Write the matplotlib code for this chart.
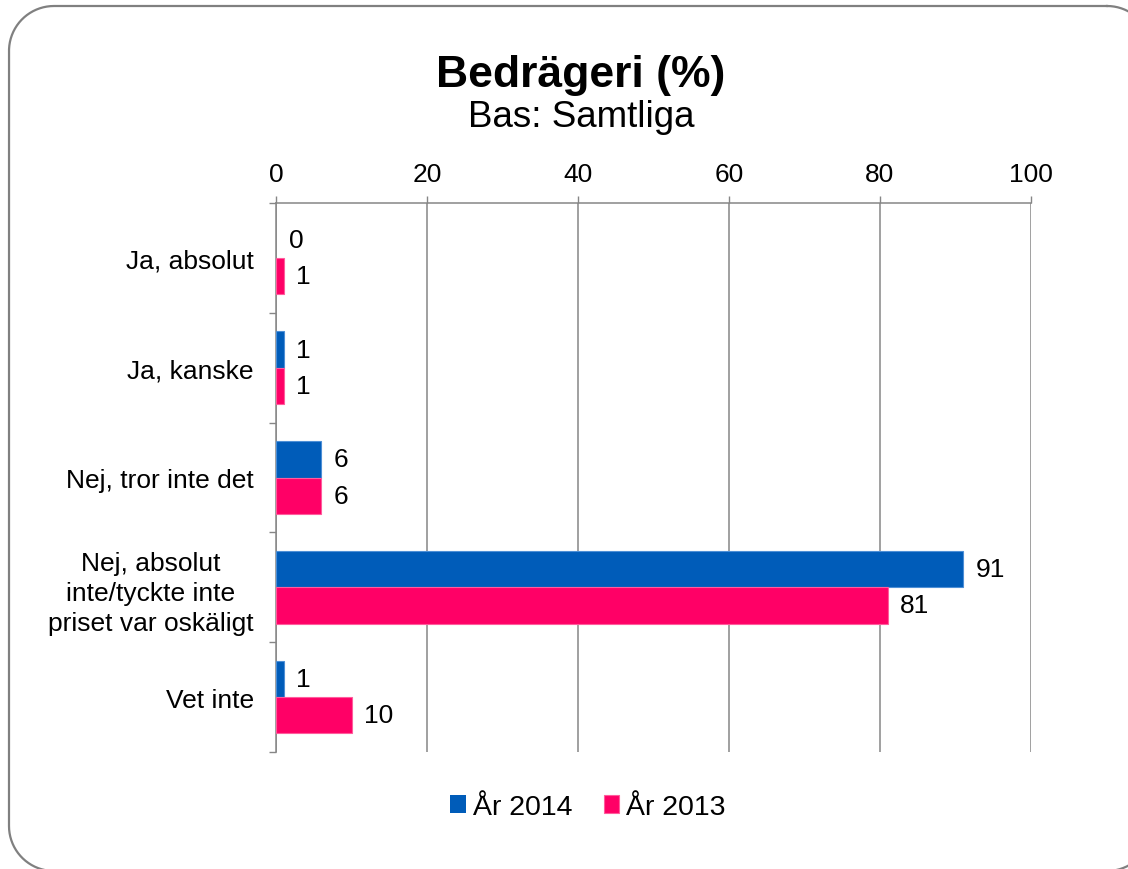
import matplotlib; matplotlib.use("Agg")
import matplotlib.pyplot as plt
import numpy as np

plt.rcParams["font.family"] = ["Liberation Sans", "DejaVu Sans"]

# data
categories = ["Ja, absolut", "Ja, kanske", "Nej, tror inte det",
              "Nej, absolut\ninte/tyckte inte\npriset var oskäligt", "Vet inte"]
y2014 = [0, 1, 6, 91, 1]
y2013 = [1, 1, 6, 81, 10]
series = ["År 2014", "År 2013"]
xticks = [0, 20, 40, 60, 80, 100]

BLUE, PINK, GRAY = "#005CB9", "#FF0066", "#868686"


def rounded_rect(x0, y0, x1, y1, r, n=40):
    # closed outline of a rounded rectangle as straight segments (pixel units, y down)
    pts = []
    for cx, cy, a0 in ((x1 - r, y0 + r, -90), (x1 - r, y1 - r, 0), (x0 + r, y1 - r, 90), (x0 + r, y0 + r, 180)):
        t = np.radians(np.linspace(a0, a0 + 90, n))
        pts += list(zip(cx + r * np.cos(t), cy + r * np.sin(t)))
    pts.append(pts[0])
    return np.array(pts)


fig = plt.figure(figsize=(11.28, 8.7), dpi=100)

# rounded frame around the chart, drawn on a background axes in pixel units
bg = fig.add_axes([0, 0, 1, 1], zorder=-1); bg.set_xlim(0, 1128); bg.set_ylim(870, 0); bg.axis("off")
fr = rounded_rect(9, 7, 1152, 872, 45)
bg.plot(fr[:, 0], fr[:, 1], color="#808080", lw=1.6, solid_joinstyle="round")

ax = fig.add_axes([276 / 1128, 1 - 753 / 870, (1031 - 276) / 1128, (753 - 204) / 870])
y = np.arange(len(categories)); h = 0.33
b1 = ax.barh(y - h / 2, y2014, height=h, color=BLUE, ec="#4D8FD6", lw=0.8, label=series[0], zorder=3)
b2 = ax.barh(y + h / 2, y2013, height=h, color=PINK, ec="#FF5C9D", lw=0.8, label=series[1], zorder=3)
for bars, vals in ((b1, y2014), (b2, y2013)):
    for r, v in zip(bars, vals):
        if v == 0: r.set_linewidth(0)
        ax.annotate(f"{v}", xy=(v, r.get_y() + r.get_height() / 2), xytext=(9, 0), textcoords="offset points",
                    ha="left", va="center", fontsize=19)

ax.set_xlim(0, 100); ax.set_ylim(len(categories) - 0.5, -0.5)
ax.xaxis.tick_top(); ax.set_xticks(xticks); ax.set_xticklabels([str(t) for t in xticks])
ax.tick_params(axis="x", length=5, width=1, color=GRAY, labelsize=19, pad=7)
ax.set_yticks(np.arange(-0.5, len(categories), 1)); ax.set_yticklabels([])
ax.set_yticks(y, minor=True); ax.set_yticklabels(categories, minor=True, linespacing=1.32)
ax.tick_params(axis="y", which="major", length=5, width=1, color=GRAY)
ax.tick_params(axis="y", which="minor", length=0, labelsize=19, pad=16)
for lab in ax.get_yticklabels(minor=True): lab.set_multialignment("center")
ax.grid(axis="x", color=GRAY, lw=1.1, zorder=0); ax.set_axisbelow(True)
for s in ("right", "bottom"): ax.spines[s].set_visible(False)
for s in ("top", "left"): ax.spines[s].set_color(GRAY); ax.spines[s].set_linewidth(1.1)

fig.text(581 / 1128, 1 - 87 / 870, "Bedrägeri (%)", ha="center", va="baseline", fontsize=32, fontweight="bold")
fig.text(581 / 1128, 1 - 127 / 870, "Bas: Samtliga", ha="center", va="baseline", fontsize=26.5)

fig.legend(handles=[b1, b2], labels=series, loc="center", bbox_to_anchor=(588 / 1128, 1 - 808 / 870), ncol=2,
           frameon=False, fontsize=20.5, handlelength=0.55, handleheight=0.55, handletextpad=0.25, columnspacing=1.1)

fig.savefig("out.png", dpi=100)
